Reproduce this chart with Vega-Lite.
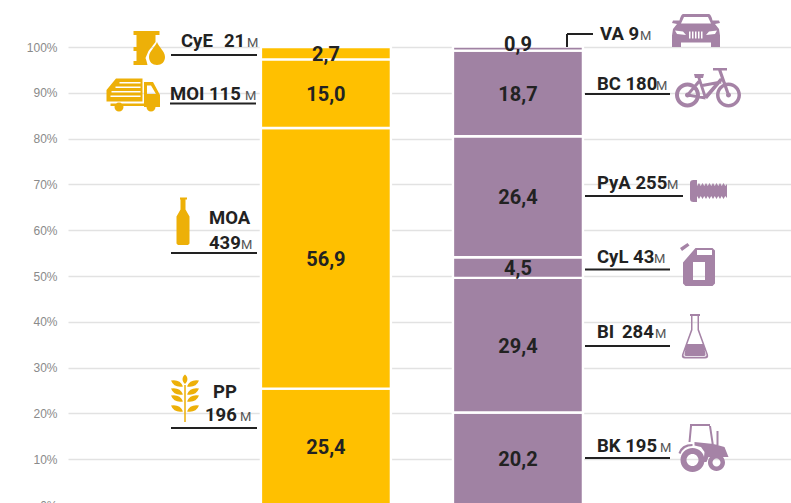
{
"$schema":"https://vega.github.io/schema/vega-lite/v6.json",
"width":723,"height":458,
"autosize":"none",
"padding":{"left":68,"top":47,"right":0,"bottom":0},
"background":"white",
"datasets":{
"bars":[
{"col":"Izquierda","order":1,"value":25.4,"label":"25,4"},
{"col":"Izquierda","order":2,"value":56.9,"label":"56,9"},
{"col":"Izquierda","order":3,"value":15.0,"label":"15,0"},
{"col":"Izquierda","order":4,"value":2.7,"label":"2,7"},
{"col":"Derecha","order":1,"value":20.2,"label":"20,2"},
{"col":"Derecha","order":2,"value":29.4,"label":"29,4"},
{"col":"Derecha","order":3,"value":4.5,"label":"4,5"},
{"col":"Derecha","order":4,"value":26.4,"label":"26,4"},
{"col":"Derecha","order":5,"value":18.7,"label":"18,7"},
{"col":"Derecha","order":6,"value":0.9,"label":"0,9"}
],
"leaders":[
{"x":103,"x2":189,"y":98.25,"y2":98.25},
{"x":102,"x2":188,"y":87.66,"y2":87.66},
{"x":103,"x2":189,"y":55.02,"y2":55.02},
{"x":103,"x2":189,"y":16.81,"y2":16.81},
{"x":499,"x2":525,"y":102.84,"y2":102.84},
{"x":499,"x2":499,"y":100,"y2":102.84},
{"x":517,"x2":602,"y":89.74,"y2":89.74},
{"x":517,"x2":615,"y":67.47,"y2":67.47},
{"x":517,"x2":602,"y":51.42,"y2":51.42},
{"x":517,"x2":602,"y":34.72,"y2":34.72},
{"x":517,"x2":602,"y":10.26,"y2":10.26}
],
"names":[
{"text":"CyE","x":113,"y":100},
{"text":"21","x":156,"y":100},
{"text":"MOI 115","x":102,"y":88.43},
{"text":"MOA","x":141,"y":61.35},
{"text":"439","x":141,"y":55.9},
{"text":"PP","x":145,"y":23.36},
{"text":"196","x":137,"y":18.34},
{"text":"VA 9","x":532,"y":101.53},
{"text":"BC 180","x":529,"y":90.61},
{"text":"PyA 255","x":529,"y":69.0},
{"text":"CyL 43","x":529,"y":52.84},
{"text":"BI","x":529,"y":36.46},
{"text":"284","x":554,"y":36.46},
{"text":"BK 195","x":529,"y":11.57}
],
"units":[
{"text":"M","x":179,"y":100},
{"text":"M","x":177,"y":88.43},
{"text":"M","x":173,"y":55.9},
{"text":"M","x":172,"y":18.34},
{"text":"M","x":572,"y":101.53},
{"text":"M","x":588,"y":90.61},
{"text":"M","x":599,"y":69.0},
{"text":"M","x":586,"y":52.84},
{"text":"M","x":587,"y":36.46},
{"text":"M","x":592,"y":11.57}
],
"icons":[
{"icon":"barrel","col":"Izquierda","x":81.5,"y":99.78},
{"icon":"truck","col":"Izquierda","x":65.5,"y":89.74},
{"icon":"bottle","col":"Izquierda","x":115,"y":61.9},
{"icon":"wheat","col":"Izquierda","x":117,"y":23.36},
{"icon":"car","col":"Derecha","x":628,"y":103.6},
{"icon":"bike","col":"Derecha","x":640,"y":91.05},
{"icon":"bolt","col":"Derecha","x":640.5,"y":68.56},
{"icon":"jerrycan","col":"Derecha","x":629.5,"y":52.51},
{"icon":"flask","col":"Derecha","x":627,"y":36.79},
{"icon":"tractor","col":"Derecha","x":635.5,"y":12.66}
]
},
"layer":[
{
"data":{"name":"bars"},
"mark":{"type":"bar","stroke":"white","strokeWidth":2.4,"width":130},
"encoding":{
"x":{"field":"col","type":"nominal","axis":null,"scale":{"type":"band","domain":["Izquierda","Derecha"],"paddingInner":0.235,"paddingOuter":1,"align":0.4803}},
"y":{"field":"value","type":"quantitative","stack":"zero","scale":{"domain":[0,100],"nice":false},
"axis":{"title":null,"values":[0,10,20,30,40,50,60,70,80,90,100],"labelExpr":"datum.value + '%'","domain":false,"ticks":false,"labelPadding":11,"labelFont":"Liberation Sans","labelFontSize":12,"labelColor":"#8a8a8a","gridColor":"#e2e2e2","gridWidth":1.3,"grid":true}},
"order":{"field":"order","type":"quantitative"},
"color":{"field":"col","type":"nominal","legend":null,"scale":{"domain":["Izquierda","Derecha"],"range":["#FFC000","#A082A3"]}}
}
},
{
"data":{"name":"bars"},
"transform":[{"filter":"datum.label !== '0,9'"}],
"mark":{"type":"text","font":"Roboto","fontWeight":"bold","fontSize":20,"color":"#222222","baseline":"middle","dy":1.5},
"encoding":{
"x":{"field":"col","type":"nominal","axis":null,"bandPosition":0.5,"scale":{"type":"band","domain":["Izquierda","Derecha"],"paddingInner":0.235,"paddingOuter":1,"align":0.4803}},
"y":{"field":"value","type":"quantitative","stack":"zero","bandPosition":0.5},
"detail":{"field":"order"},
"order":{"field":"order","type":"quantitative"},
"text":{"field":"label"}
}
},
{
"data":{"name":"bars"},
"mark":{"type":"text","font":"Roboto","fontWeight":"bold","fontSize":20,"color":"#222222","baseline":"middle","dy":-3.5},
"transform":[{"filter":"datum.label === '0,9'"}],
"encoding":{
"x":{"field":"col","type":"nominal","axis":null,"bandPosition":0.5,"scale":{"type":"band","domain":["Izquierda","Derecha"],"paddingInner":0.235,"paddingOuter":1,"align":0.4803}},
"y":{"datum":99.65,"type":"quantitative"},
"text":{"field":"label"}
}
},
{
"data":{"name":"leaders"},
"mark":{"type":"rule","color":"#222222","strokeWidth":2},
"encoding":{
"x":{"field":"x","type":"quantitative","axis":null,"scale":{"domain":[0,723],"nice":false,"zero":false}},
"x2":{"field":"x2"},
"y":{"field":"y","type":"quantitative"},
"y2":{"field":"y2"}
}
},
{
"data":{"name":"names"},
"mark":{"type":"text","font":"Roboto","fontWeight":"bold","fontSize":18.5,"color":"#222222","align":"left","baseline":"alphabetic"},
"encoding":{
"x":{"field":"x","type":"quantitative","axis":null,"scale":{"domain":[0,723],"nice":false,"zero":false}},
"y":{"field":"y","type":"quantitative"},
"text":{"field":"text"}
}
},
{
"data":{"name":"units"},
"mark":{"type":"text","font":"Roboto","fontSize":13,"color":"#555555","align":"left","baseline":"alphabetic"},
"encoding":{
"x":{"field":"x","type":"quantitative","axis":null,"scale":{"domain":[0,723],"nice":false,"zero":false}},
"y":{"field":"y","type":"quantitative"},
"text":{"field":"text"}
}
},
{
"data":{"name":"icons"},
"mark":{"type":"point","filled":true,"opacity":1,"size":10000,"strokeWidth":0},
"encoding":{
"x":{"field":"x","type":"quantitative","axis":null,"scale":{"domain":[0,723],"nice":false,"zero":false}},
"y":{"field":"y","type":"quantitative"},
"color":{"field":"col","type":"nominal","legend":null,"scale":{"domain":["Izquierda","Derecha"],"range":["#EDB008","#A583A6"]}},
"shape":{"field":"icon","type":"nominal","legend":null,"scale":{
"domain":["barrel","truck","bottle","wheat","car","bike","bolt","jerrycan","flask","tractor"],
"range":[
"M-.32,-.34 L.2,-.34 L.2,-.26 L.12,-.26 L.12,-.12 L-.02,.06 L-.08,.2 L-.06,.26 L-.04,.34 L-.32,.34 L-.32,.26 L-.26,.26 L-.26,.06 L-.32,.06 L-.32,-.02 L-.26,-.02 L-.26,-.26 L-.32,-.26 Z M.15,-.12 C.18,-.02 .31,.06 .31,.18 C.31,.28 .24,.34 .15,.34 C.06,.34 -.01,.28 -.01,.18 C-.01,.06 .12,-.02 .15,-.12 Z",
"M-.54,-.08 L-.35,-.31 L.18,-.31 L.18,.15 L-.54,.15 Z M-.28,-.24 L-.28,-.21 L.14,-.21 L.14,-.24 Z M-.36,-.15 L-.36,-.12 L.14,-.12 L.14,-.15 Z M-.44,-.06 L-.44,-.03 L.14,-.03 L.14,-.06 Z M-.46,.03 L-.46,.06 L.14,.06 L.14,.03 Z M.21,-.24 L.39,-.24 L.53,.02 L.53,.26 L.21,.26 Z M.27,-.17 L.27,0 L.45,0 L.35,-.17 Z M-.46,.19 L.21,.19 L.21,.24 L-.46,.24 Z M-.38,.26 A.09,.09 0 1 1 -.2,.26 A.09,.09 0 1 1 -.38,.26 Z M.26,.26 A.09,.09 0 1 1 .44,.26 A.09,.09 0 1 1 .26,.26 Z",
"M-.06,-.48 L.08,-.48 L.08,-.44 L.05,-.44 L.05,-.24 L.13,-.1 L.13,.44 L.1,.47 L-.1,.47 L-.13,.44 L-.13,-.1 L-.05,-.24 L-.05,-.44 L-.06,-.44 Z",
"M-.015,-.26 L.015,-.26 L.015,.48 L-.015,.48 Z M0,-.47 C.06,-.42 .07,-.34 0,-.28 C-.07,-.34 -.06,-.42 0,-.47 Z M-.04,-.23 Q-.22,-.2 -.28,-.35 Q-.1,-.38 -.04,-.23 Z M.04,-.23 Q.1,-.38 .28,-.35 Q.22,-.2 .04,-.23 Z M-.04,-.07 Q-.22,-.04 -.28,-.19 Q-.1,-.22 -.04,-.07 Z M.04,-.07 Q.1,-.22 .28,-.19 Q.22,-.04 .04,-.07 Z M-.04,.07 Q-.22,.1 -.28,-.05 Q-.1,-.08 -.04,.07 Z M.04,.07 Q.1,-.08 .28,-.05 Q.22,.1 .04,.07 Z M-.04,.27 Q-.22,.3 -.28,.15 Q-.1,.12 -.04,.27 Z M.04,.27 Q.1,.12 .28,.15 Q.22,.3 .04,.27 Z",
"M-.26,-.33 L.26,-.33 Q.3,-.33 .33,-.2 L.46,-.2 L.48,-.15 L.38,-.13 L.46,-.03 L.48,.1 L.48,.33 L.3,.33 L.3,.24 L-.3,.24 L-.3,.33 L-.48,.33 L-.48,.1 L-.46,-.03 L-.38,-.13 L-.48,-.15 L-.46,-.2 L-.33,-.2 Q-.3,-.33 -.26,-.33 Z M-.24,-.27 L-.3,-.14 L.3,-.14 L.24,-.27 Z M-.42,0 L-.38,.07 L-.2,.09 L-.26,.02 Z M.42,0 L.26,.02 L.2,.09 L.38,.07 Z M-.14,.02 L-.14,.16 L-.11,.16 L-.11,.02 Z M-.08,.02 L-.08,.16 L-.05,.16 L-.05,.02 Z M-.02,.02 L-.02,.16 L.01,.16 L.01,.02 Z M.04,.02 L.04,.16 L.07,.16 L.07,.02 Z M.1,.02 L.1,.16 L.13,.16 L.13,.02 Z",
"M-.66,.14 A.25,.25 0 1 1 -.16,.14 A.25,.25 0 1 1 -.66,.14 Z M-.58,.14 A.17,.17 0 1 0 -.24,.14 A.17,.17 0 1 0 -.58,.14 Z M.16,.14 A.25,.25 0 1 1 .66,.14 A.25,.25 0 1 1 .16,.14 Z M.23,.14 A.18,.18 0 1 0 .59,.14 A.18,.18 0 1 0 .23,.14 Z M-.28,-.28 L-.08,-.28 L-.1,-.2 L-.26,-.2 Z M-.21,-.2 L-.15,-.2 L-.02,.2 L-.08,.2 Z M.24,-.2 L.3,-.16 L-.02,.22 L-.08,.17 Z M-.12,-.08 L.26,-.15 L.27,-.09 L-.11,-.02 Z M.2,-.36 L.26,-.38 L.44,.13 L.38,.15 Z M.1,-.4 L.38,-.4 L.38,-.35 L.1,-.35 Z M-.41,.11 L-.05,.17 L-.05,.23 L-.41,.17 Z M-.43,.12 L-.18,-.18 L-.13,-.14 L-.39,.16 Z M-.46,.14 A.05,.05 0 1 1 -.36,.14 A.05,.05 0 1 1 -.46,.14 Z M.36,.14 A.05,.05 0 1 1 .46,.14 A.05,.05 0 1 1 .36,.14 Z",
"M-.37,-.16 Q-.37,-.22 -.3,-.22 L-.23,-.22 L-.23,-.1 L-.19,-.16 L-.155,-.1 L-.12,-.16 L-.085,-.1 L-.05,-.16 L-.015,-.1 L.02,-.16 L.055,-.1 L.09,-.16 L.125,-.1 L.16,-.16 L.195,-.1 L.23,-.16 L.265,-.1 L.3,-.16 L.335,-.1 L.37,-.14 L.37,.14 L.335,.1 L.3,.16 L.265,.1 L.23,.16 L.195,.1 L.16,.16 L.125,.1 L.09,.16 L.055,.1 L.02,.16 L-.015,.1 L-.05,.16 L-.085,.1 L-.12,.16 L-.155,.1 L-.19,.16 L-.23,.1 L-.23,.22 L-.3,.22 Q-.37,.22 -.37,.16 Z",
"M-.29,-.04 L-.04,-.33 L.3,-.33 L.35,-.28 L.35,.38 L.3,.43 L-.24,.43 L-.29,.38 Z M-.01,-.29 L-.01,-.19 L.29,-.19 L.29,-.29 Z M-.09,-.05 L-.09,.31 L.15,.31 L.15,-.05 Z M-.35,-.33 L-.2,-.43 L-.16,-.38 L-.31,-.27 Z",
"M-.1,-.45 L.1,-.45 L.1,-.41 L.08,-.41 L.08,-.14 L.26,.36 Q.28,.44 .2,.44 L-.2,.44 Q-.28,.44 -.26,.36 L-.08,-.14 L-.08,-.41 L-.1,-.41 Z M-.05,-.41 L-.05,-.13 L-.225,.35 Q-.24,.405 -.19,.405 L.19,.405 Q.24,.405 .225,.35 L.05,-.13 L.05,-.41 Z M-.17,.15 L.17,.15 L.21,.35 Q.22,.39 .18,.39 L-.18,.39 Q-.22,.39 -.21,.35 Z",
"M-.46,.26 A.24,.24 0 1 1 .02,.26 A.24,.24 0 1 1 -.46,.26 Z M-.34,.26 A.12,.12 0 1 0 -.1,.26 A.12,.12 0 1 0 -.34,.26 Z M.09,.31 A.17,.17 0 1 1 .43,.31 A.17,.17 0 1 1 .09,.31 Z M.18,.31 A.08,.08 0 1 0 .34,.31 A.08,.08 0 1 0 .18,.31 Z M-.27,-.46 L.13,-.46 L.13,-.42 L-.27,-.42 Z M-.27,-.42 L-.23,-.42 L-.26,-.1 L-.3,-.1 Z M.11,-.42 L.15,-.42 L.21,-.02 L.17,-.02 Z M-.18,-.1 L.2,-.06 L.42,0 L.5,.2 L.1,.2 L.06,.3 L0,.3 L.02,.1 L-.05,0 L-.18,-.03 Z M-.5,.12 Q-.45,-.06 -.22,-.06 L-.22,-.02 Q-.4,-.02 -.46,.14 Z M.26,-.32 L.3,-.32 L.3,-.02 L.26,-.02 Z"
]}}
}
}
],
"resolve":{"scale":{"x":"independent","color":"independent"}},
"config":{"view":{"stroke":null}}
}
